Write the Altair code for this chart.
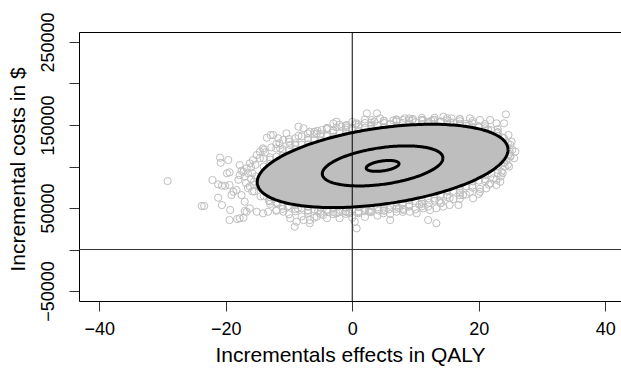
import altair as alt
import numpy as np
import pandas as pd

# Simulated incremental effects (QALY) and costs ($) -- outer part of the cloud
eff = [
    -29.2, -20.9, -20.8, -19.6, -19.8, -19.4, -22.1, -21.2, -20.6, -20.1, -19.4,
    -21.2, -20.6, -23.8, -23.4, -19.3, -19.4, -18.2, -17.8, -17.2, -16.7, -17.0,
    -17.8, -19.1, -18.8, -18.3, -17.8, -17.2, -16.7, -16.2, -15.7, -15.1, -14.6,
    -14.1, -13.5, -12.9, -17.5, -17.0, -16.2, -15.1, -14.1, -13.3,
    -8.5, -7.7, -6.7, -5.6, -4.8, -4.0, -3.0, -2.5, -1.7, -0.9, -0.1, 0.7,
    2.3, 3.9, 3.1, 4.4,
    -12.5, -11.7, -10.9, -10.4, -9.8, -11.4,
    -12.0, -10.9, -9.8, -8.8, -7.7, -6.7, -5.6, -4.6, -2.5, -0.4, 0.7, 0.4,
    2.8, 4.9, 6.0, -9.1, -6.7,
    7.0, 8.3, 9.6, 11.2, 12.8, 14.4, 15.7, 17.0, 18.6, 20.2, 21.8, 22.8,
    24.3, 24.0, 24.7, 25.2, 24.9, 24.4, 24.1, 23.6, 23.4, 22.8,
    19.1, 17.5, 16.8, 15.4, 14.4, 13.3, 12.3, 11.2, 10.2, 9.1, 8.1, 7.0,
    12.0, 13.3, 21.2, 21.8, 20.2, 22.3,
    # dense band around the main contour
    -15.8, -15.3, -14.6, -13.8, -12.8, -11.5, -10.0, -8.5, -7.0, -5.5, -4.0,
    -2.5, -1.0, 0.5, 2.0, 3.5, 5.0, 6.5, 8.0, 9.5, 11.0, 12.5, 14.0, 15.5,
    17.0, 18.5, 20.0, 21.5, 22.8, 23.8, 24.6,
    -16.2, -15.5, -14.5, -13.2, -11.8, -10.2, -8.6, -7.0, -5.4, -3.8, -2.2,
    -0.6, 1.0, 2.6, 4.2, 5.8, 7.4, 9.0, 10.6, 12.2, 13.8, 15.4, 17.0, 18.6,
    20.2, 21.6, 22.8, 23.8, 24.6, 25.0,
    -14.0, -12.0, -9.0, -6.0, -3.0, 0.0, 3.0, 6.0, 9.0, 12.0, 15.0, 18.0,
    21.0, 23.0, -13.0, -10.0, -7.0, -4.0, -1.0, 2.0, 5.0, 8.0, 11.0, 14.0,
    17.0, 20.0,
    -14, -12, -10, -8, -6, -4, -2, 0, 2, 4, 6, 8, 10, 12, 14, 16, 18, 20, 22, 24,
    -13, -11, -9, -7, -5, -3, -1, 1, 3, 5, 7, 9, 11, 13, 15, 17, 19, 21, 23,
    -14, -12, -10, -8, -6, -4, -2, 0, 2,
    -14, -12, -10, -8, -6, -4, -2, 0, 2, 4, 6, 8, 10, 12, 14, 16, 18, 20, 22, 24,
    -13, -11, -9, -7, -5, -3, -1, 1, 3, 5, 7, 9, 11, 13, 15, 17, 19, 21, 23,
    -12, -10, -8, -6, -4, -2, 0, 2, 4, 6, 8, 10, 12, 14, 16, 18,
    25.0, 25.3, 25.0, 24.8, 23.5, -16.0, -16.5, -16.0, -15.5, -17.0, -16.8,
    -13, -11, -9, -7, -5, -3, -1, 1, 3, 5, 7, 9, 11, 13, 15, 17, 19, 21, 23,
    -13, -11, -9, -7, -5, -3, -1, 1, 3, 5, 7, 9, 11, 13, 15, 17, 19, 21, 23,
    -13, -11, -9, -7, -5, -3, -1, 1, 3, 5, 7, 9, 11, 13, 15, 17, 19, 21, 23,
    -13, -11, -9, -7, -5, -3, -1, 1, 3, 5, 7, 9, 11, 13, 15, 17, 19, 21, 23,
    24.8, 24.5, 25.6, 25.8, 24.0, -15.2, -15.5, -14.8, -17.5, -18.0, -16.5, -15.8,
]
cost = [
    82500, 110600, 104500, 107800, 91800, 93000, 83700, 78500, 76800, 76800, 77700,
    62400, 53600, 52400, 52400, 47600, 35500, 36700, 37600, 38300, 45500, 46400,
    101800, 65600, 69600, 71700, 89700, 93700, 97800, 103800, 107800, 113800, 117800,
    121900, 134700, 137900, 65600, 57600, 49600, 45500, 43600, 45500,
    147900, 146000, 141900, 140000, 143900, 146000, 152000, 153900, 147900, 150000, 146000, 152000,
    164000, 164000, 156000, 158000,
    137900, 133900, 131900, 140000, 125900, 121900,
    47600, 45500, 37600, 33500, 35500, 35500, 39500, 41600, 43600, 43600, 25500, 33500,
    45500, 43600, 35500, 27500, 31600,
    156000, 158000, 157200, 156000, 156000, 160000, 158000, 157200, 158000, 156000, 156000, 152000,
    162800, 152000, 137900, 129800, 117800, 107800, 99700, 93700, 81700, 77700,
    61700, 65600, 53600, 53600, 51600, 49600, 47600, 49600, 43600, 45500, 47600, 45500,
    35500, 31600, 73700, 79700, 69600, 85800,
    92000, 102000, 110000, 117000, 123000, 128000, 133000, 137000, 140000, 143000, 145000,
    147000, 149000, 151000, 152500, 154000, 155000, 155500, 156000, 156000, 155500, 155000, 154000, 153000,
    151500, 150000, 147000, 144000, 140000, 135000, 128000,
    76000, 70000, 64000, 59000, 55000, 52000, 49500, 47500, 46000, 45000, 44500,
    44500, 45000, 46000, 47000, 48500, 50000, 52000, 54000, 56500, 59000, 62000, 65500, 69000,
    73000, 78000, 84000, 92000, 102000, 113000,
    120000, 127000, 134000, 139000, 143000, 146000, 149000, 151000, 152000, 152000, 151000, 149000,
    146000, 141000, 68000, 58000, 52000, 48000, 46000, 46000, 47000, 49000, 52000, 56000,
    61000, 67000,
    99900, 111700, 119800, 126400, 131800, 136400, 140300, 143700, 146600, 149000, 150900, 152400,
    153400, 153800, 153700, 152800, 151200, 148300, 143600, 134200,
    111000, 120800, 128100, 134100, 139100, 143400, 147000, 150200, 152800, 155000, 156700, 157900,
    158600, 158700, 158200, 157000, 154800, 151000, 145000,
    109900, 121700, 129800, 136400, 141800, 146400, 150300, 153700, 156600,
    64400, 56600, 52400, 49850, 48350, 47700, 47650, 48250, 49250, 50800, 52800, 55300,
    58300, 61800, 65900, 70650, 76200, 83000, 91600, 105000,
    55000, 49000, 46100, 44100, 42950, 42650, 42900, 43700, 45000, 46800, 49000, 51800,
    55000, 58800, 63300, 68400, 74600, 82300, 92000,
    46600, 42400, 39850, 38350, 37700, 37650, 38250, 39250, 40800, 42800, 45300, 48300,
    51800, 55900, 60650, 66200,
    112000, 120000, 126000, 100000, 88000, 85000, 92000, 99000, 78000, 88000, 80000,
    108300, 118250, 125600, 131600, 136600, 140850, 144500, 147650, 150300, 152450, 154150, 155400,
    156100, 156200, 155700, 154500, 152200, 148450, 141400,
    103300, 113250, 120600, 126600, 131600, 135850, 139500, 142650, 145300, 147450, 149150, 150400,
    151100, 151200, 150700, 149500, 147200, 143450, 136400,
    58020, 52000, 48625, 46600, 45525, 45175, 45450, 46250, 47525, 49300, 51550, 54300,
    57550, 61350, 65775, 70925, 77100, 84820, 95820,
    63020, 57000, 53625, 51600, 50525, 50175, 50450, 51250, 52525, 54300, 56550, 59300,
    62550, 66350, 70775, 75925, 82100, 89820, 100820,
    115000, 122000, 110000, 118000, 104000, 88000, 82000, 76000, 95000, 84000, 74000, 70000,
]

# Bivariate normal summary of the simulations and the contour levels shown
center_eff, center_cost = 4.8, 100700
sd_eff, sd_cost, rho = 8.1, 20500, 0.39
levels = [0.05, 0.50, 0.95]

x_ticks = [-40, -20, 0, 20, 40]
y_ticks = [-50000, 0, 50000, 100000, 150000, 200000, 250000]

points = pd.DataFrame({"eff": eff, "cost": cost})

t = np.linspace(0, 2 * np.pi, 241)
rows = []
for p in levels:
    k = np.sqrt(-2 * np.log(1 - p))
    ex = center_eff + sd_eff * k * np.cos(t)
    ey = center_cost + sd_cost * k * (rho * np.cos(t) + np.sqrt(1 - rho**2) * np.sin(t))
    for i, (a, b) in enumerate(zip(ex, ey)):
        rows.append({"level": p, "i": i, "eff": a, "cost": b})
contours = pd.DataFrame(rows)

# Filled region of the outer (95%) contour: upper and lower halves for each x
k95 = np.sqrt(-2 * np.log(1 - max(levels)))
th = np.linspace(0, np.pi, 181)
fx = center_eff + sd_eff * k95 * np.cos(th)
fy_hi = center_cost + sd_cost * k95 * (rho * np.cos(th) + np.sqrt(1 - rho**2) * np.sin(th))
fy_lo = center_cost + sd_cost * k95 * (rho * np.cos(th) - np.sqrt(1 - rho**2) * np.sin(th))
fill = pd.DataFrame({"eff": fx, "hi": fy_hi, "lo": fy_lo})

W, H = 542, 269
xscale = alt.Scale(domain=[-43.2, 42.49], nice=False, zero=False)
yscale = alt.Scale(domain=[-62000, 262000], nice=False, zero=False)
FONT = "Liberation Sans"

x_axis = alt.Axis(
    values=x_ticks, title="Incrementals effects in QALY", grid=False,
    tickSize=10, tickColor="#333", tickWidth=1, domainColor="#000", domainWidth=1,
    labelFont=FONT, labelFontSize=18, labelColor="#000", labelBaseline="alphabetic",
    labelPadding=23, labelFlush=False,
    titleFont=FONT, titleFontSize=21, titleFontWeight="normal", titleColor="#000",
    titleBaseline="alphabetic", titleY=60,
)
y_axis = alt.Axis(
    values=y_ticks, format="d", title="Incremental costs in $", grid=False,
    labelExpr="(datum.value + 50000) % 100000 == 0 ? datum.label : ''",
    tickSize=10, tickColor="#333", tickWidth=1, domainColor="#000", domainWidth=1,
    labelFont=FONT, labelFontSize=18, labelColor="#000", labelAngle=270,
    labelAlign="center", labelBaseline="alphabetic", labelPadding=16, labelFlush=False,
    titleFont=FONT, titleFontSize=21, titleFontWeight="normal", titleColor="#000",
    titleAngle=270, titleBaseline="alphabetic", titleAlign="center", titleX=-54.5, titleY=137,
)
top_axis = alt.Axis(orient="top", labels=False, ticks=False, title=None, grid=False,
                    domainColor="#000", domainWidth=1)

cloud = alt.Chart(points).mark_point(
    shape="circle", filled=False, size=52, strokeWidth=1, color="#bebebe", opacity=1
).encode(
    x=alt.X("eff:Q", scale=xscale, axis=x_axis),
    y=alt.Y("cost:Q", scale=yscale, axis=y_axis),
)

core = alt.Chart(fill).mark_area(color="#bebebe", opacity=1).encode(
    x=alt.X("eff:Q", scale=xscale, axis=top_axis),
    y=alt.Y("hi:Q", scale=yscale),
    y2="lo:Q",
)

rings = alt.Chart(contours).mark_line(color="#000", strokeWidth=3).encode(
    x=alt.X("eff:Q", scale=xscale, axis=None),
    y=alt.Y("cost:Q", scale=yscale),
    detail="level:N",
    order="i:Q",
)

zero = pd.DataFrame({"v": [0]})
vline = alt.Chart(zero).mark_rule(color="#000", strokeWidth=1).encode(
    x=alt.X("v:Q", scale=xscale, axis=None)
)
hline = alt.Chart(zero).mark_rule(color="#333", strokeWidth=1).encode(
    y=alt.Y("v:Q", scale=yscale)
)

chart = alt.layer(cloud, core, rings, vline, hline).resolve_axis(
    x="independent"
).properties(
    width=W, height=H,
    autosize=alt.AutoSizeParams(type="none"),
    padding={"left": 79, "top": 32, "right": 0, "bottom": 68},
    background="white",
).configure_view(stroke=None)

chart.save("out.html", embed_options={"renderer": "svg", "actions": False})
